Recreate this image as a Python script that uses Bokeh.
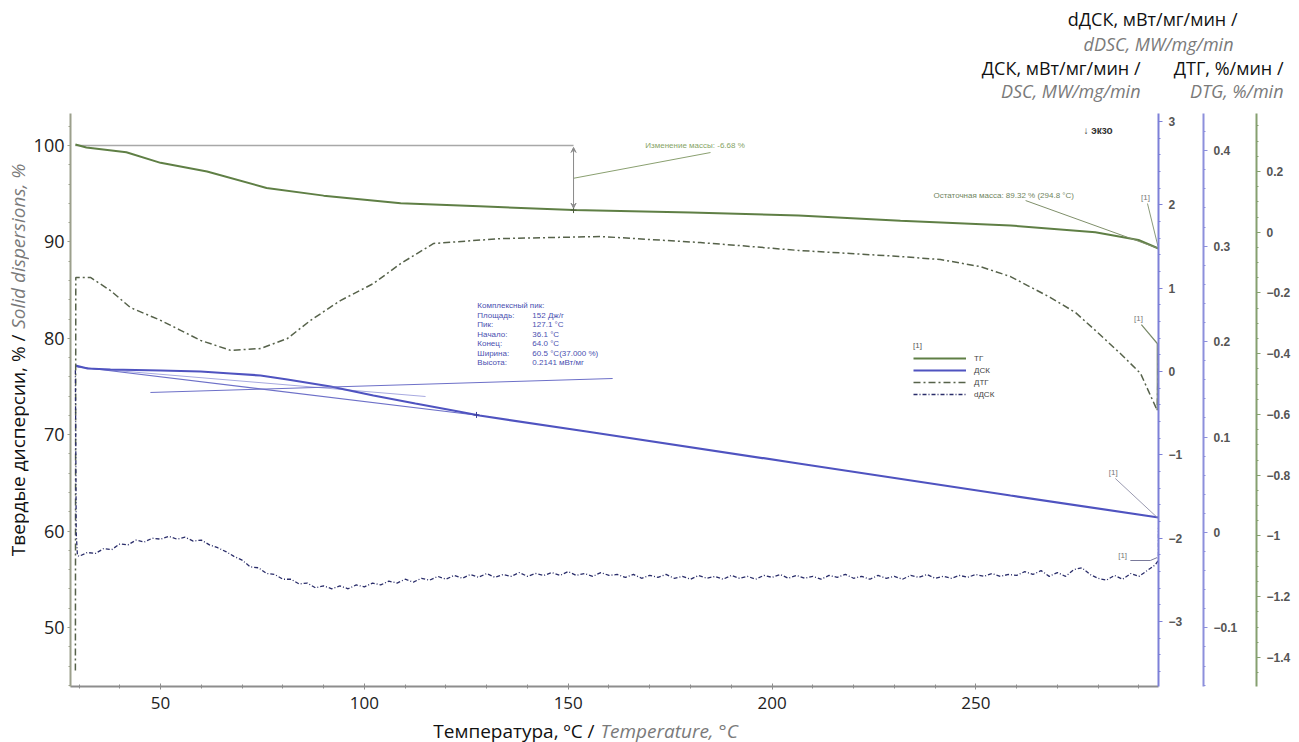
import numpy as np
from bokeh.plotting import figure
from bokeh.layouts import column, row
from bokeh.models import (Range1d, LinearAxis, SingleIntervalTicker, Label, Legend, LegendItem,
                          Arrow, VeeHead, ColumnDataSource)
from bokeh.core.properties import value
from bokeh.embed import file_html
from bokeh.resources import INLINE

# ---------------- data ----------------
# TG, % (left axis)
tg_T = [29.1, 31.8, 41.6, 50.0, 61.4, 76.0, 90.0, 108.9, 128.2, 151.3, 180.0, 206.5, 231.5,
        258.5, 279.3, 289.9, 294.8]
tg_val = [100.1, 99.8, 99.3, 98.2, 97.3, 95.6, 94.8, 94.0, 93.7, 93.3, 93.05, 92.75, 92.2,
          91.7, 91.0, 90.2, 89.32]

# DTG, %/min (third right axis)
dtg_T = [29.1, 29.2, 32.8, 37.7, 42.6, 50.0, 54.9, 59.8, 67.2, 74.5, 81.1, 86.8, 94.1, 102.2,
         108.9, 117.0, 133.4, 157.9, 182.4, 192.2, 206.5, 219.2, 231.5, 241.3, 251.1, 258.5,
         268.3, 274.4, 279.3, 285.5, 290.4, 294.5, 294.8]
dtg_val = [-1.443, -0.149, -0.149, -0.192, -0.248, -0.290, -0.323, -0.356, -0.389, -0.383,
           -0.350, -0.290, -0.225, -0.169, -0.103, -0.037, -0.021, -0.014, -0.034, -0.044,
           -0.060, -0.070, -0.080, -0.090, -0.113, -0.146, -0.215, -0.264, -0.323, -0.400,
           -0.465, -0.587, -0.366]

# DSC, mW/mg (first right axis)
dsc_T = [29.1, 32.1, 37.7, 50.0, 59.8, 67.2, 74.5, 81.1, 91.7, 102.2, 112.5, 123.1, 128.2,
         154.5, 206.5, 258.5, 294.8]
dsc_val = [0.072, 0.036, 0.024, 0.012, 0.0, -0.024, -0.048, -0.096, -0.180, -0.288, -0.384,
           -0.480, -0.528, -0.720, -1.104, -1.488, -1.752]
dsc_base_T = [29.1, 128.2]
dsc_base_val = [0.06, -0.528]
dsc_aux_T = [29.6, 115.0]
dsc_aux_val = [0.05, -0.30]

# dDSC, mW/mg/min (second right axis)
ddsc_grid = list(range(30, 295, 2))
ddsc_grid_val = [
    -0.025, -0.021, -0.022, -0.017, -0.018, -0.012, -0.013, -0.008, -0.010, -0.006,
    -0.007, -0.004, -0.007, -0.005, -0.009, -0.008, -0.013, -0.016, -0.020, -0.025,
    -0.029, -0.036, -0.037, -0.043, -0.044, -0.049, -0.049, -0.054, -0.053, -0.058,
    -0.056, -0.059, -0.056, -0.059, -0.055, -0.057, -0.053, -0.055, -0.051, -0.053,
    -0.049, -0.052, -0.048, -0.050, -0.046, -0.049, -0.045, -0.048, -0.044, -0.047,
    -0.043, -0.047, -0.044, -0.046, -0.042, -0.046, -0.043, -0.045, -0.042, -0.045,
    -0.041, -0.045, -0.043, -0.046, -0.042, -0.045, -0.044, -0.047, -0.044, -0.048,
    -0.045, -0.047, -0.044, -0.048, -0.046, -0.049, -0.045, -0.048, -0.046, -0.049,
    -0.045, -0.048, -0.046, -0.049, -0.045, -0.047, -0.044, -0.048, -0.045, -0.048,
    -0.046, -0.049, -0.045, -0.047, -0.044, -0.048, -0.046, -0.049, -0.045, -0.048,
    -0.046, -0.049, -0.045, -0.047, -0.044, -0.048, -0.046, -0.048, -0.045, -0.047,
    -0.044, -0.046, -0.043, -0.046, -0.044, -0.045, -0.041, -0.044, -0.040, -0.046,
    -0.042, -0.046, -0.039, -0.037, -0.044, -0.048, -0.050, -0.045, -0.049, -0.043,
    -0.046, -0.040, -0.034]
ddsc_T = [29.1, 29.3, 29.6] + ddsc_grid + [294.8, 294.8]
ddsc_val = [0.17, 0.0, -0.024] + ddsc_grid_val + [-0.029, 0.005]

# analysis annotations
mass_change_T = 151.3
mass_change_text = "Изменение массы: -6.68 %"
residual_text = "Остаточная масса: 89.32 % (294.8 °C)"
peak_names = ["Комплексный пик:", "Площадь:", "Пик:", "Начало:", "Конец:", "Ширина:", "Высота:"]
peak_values = ["", "152 Дж/г", "127.1 °C", "36.1 °C", "64.0 °C", "60.5 °C(37.000 %)", "0.2141 мВт/мг"]
peak_T = 127.5

# ---------------- layout sizes ----------------
W, H = 1299, 742
TOPH = 105          # strip with the right-axis titles
LW = 29             # strip with the left-axis title
MH = 612            # main figure height
MW = W - LW
BH = H - TOPH - MH  # strip with the x-axis title


def aux(w, h):
    f = figure(width=w, height=h, x_range=Range1d(0, w), y_range=Range1d(0, h),
               output_backend="svg", toolbar_location=None, min_border=0,
               x_axis_location=None, y_axis_location=None,
               background_fill_color="white", border_fill_color="white")
    f.outline_line_color = None
    f.grid.visible = False
    return f


# ---------------- main figure ----------------
p = figure(width=MW, height=MH, output_backend="svg", toolbar_location=None,
           x_range=Range1d(27.9, 294.8), y_range=Range1d(43.88, 103.32),
           min_border_left=70 - LW, min_border_right=141, min_border_top=8, min_border_bottom=31,
           background_fill_color="white", border_fill_color="white")
p.outline_line_color = None
p.xgrid.visible = False
p.ygrid.visible = False
p.extra_y_ranges = {"dsc": Range1d(-3.780, 3.096), "ddsc": Range1d(-0.1614, 0.439),
                    "dtg": Range1d(-1.4955, 0.3909)}

TICK_FONT = "Open Sans"
xa = p.xaxis[0]
xa.ticker = SingleIntervalTicker(interval=50, num_minor_ticks=5)
xa.axis_line_color = "#8d8d8d"; xa.axis_line_width = 2
xa.major_tick_line_color = "#8d8d8d"; xa.minor_tick_line_color = "#8d8d8d"
xa.major_tick_in = 3; xa.major_tick_out = 3; xa.minor_tick_in = 2; xa.minor_tick_out = 2
xa.major_label_text_font = TICK_FONT; xa.major_label_text_font_size = "17px"
xa.major_label_text_color = "#222222"; xa.major_label_standoff = 7

ya = p.yaxis[0]
ya.ticker = SingleIntervalTicker(interval=10, num_minor_ticks=5)
ya.axis_line_color = "#9ca08c"; ya.axis_line_width = 2
ya.major_tick_line_color = "#9ca08c"; ya.minor_tick_line_color = "#9ca08c"
ya.major_tick_in = 0; ya.major_tick_out = 3; ya.minor_tick_in = 0; ya.minor_tick_out = 2
ya.major_label_text_font = TICK_FONT; ya.major_label_text_font_size = "18px"
ya.major_label_text_color = "#222222"; ya.major_label_standoff = 3


def right_axis(rng, interval, minors, color, spacer):
    ax = LinearAxis(y_range_name=rng, ticker=SingleIntervalTicker(interval=interval, num_minor_ticks=minors))
    ax.axis_line_color = color; ax.axis_line_width = 2
    ax.major_tick_line_color = color; ax.minor_tick_line_color = color
    ax.major_tick_in = 0; ax.major_tick_out = 4; ax.minor_tick_in = 0; ax.minor_tick_out = 2
    ax.major_label_text_font = "Liberation Sans"; ax.major_label_text_font_size = "12px"
    ax.major_label_text_font_style = "bold"; ax.major_label_text_color = "#555555"
    ax.major_label_standoff = 6
    if spacer:
        ax.axis_label = " "
        ax.axis_label_text_font_size = "1px"
        ax.axis_label_standoff = spacer
    p.add_layout(ax, "right")
    return ax


right_axis("dsc", 1, 5, "#7d80d8", 14)
right_axis("ddsc", 0.1, 5, "#8d90dc", 12)
right_axis("dtg", 0.2, 4, "#86a070", 0)

# ---------------- curves ----------------
p.line([tg_T[0], mass_change_T], [100, 100], line_color="#a8a8a8", line_width=1.5)
r_tg = p.line(tg_T, tg_val, line_color="#5f7f45", line_width=2)
p.line(dsc_aux_T, dsc_aux_val, y_range_name="dsc", line_color="#a7a9e0", line_width=1)
p.line(dsc_base_T, dsc_base_val, y_range_name="dsc", line_color="#6d70c8", line_width=1.2)
r_dsc = p.line(dsc_T, dsc_val, y_range_name="dsc", line_color="#4f53c0", line_width=2.2)
r_dtg = p.line(dtg_T, dtg_val, y_range_name="dtg", line_color="#56624a", line_width=1.5,
               line_dash="7 3 2 3")
r_ddsc = p.line(ddsc_T, ddsc_val, y_range_name="ddsc", line_color="#2a2d6a", line_width=1.3,
                line_dash="4 2 1 2")

tg_at_change = float(np.interp(mass_change_T, tg_T, tg_val))
p.scatter([mass_change_T], [tg_at_change], marker="cross", size=6, line_color="#4a5a3a")
p.scatter([peak_T], [float(np.interp(peak_T, dsc_T, dsc_val))], y_range_name="dsc",
          marker="cross", size=6, line_color="#3a3e9a")

p.add_layout(Arrow(start=VeeHead(size=5, line_color="#8a8a8a", fill_color="#8a8a8a"),
                   end=VeeHead(size=5, line_color="#8a8a8a", fill_color="#8a8a8a"),
                   x_start=mass_change_T, y_start=99.8, x_end=mass_change_T, y_end=tg_at_change + 0.2,
                   line_color="#8a8a8a", line_width=1))
ann_font = value("Liberation Sans")
p.line([mass_change_T, 184.9], [96.6, 99.27], line_color="#8aa070", line_width=1)
p.add_layout(Label(x=168.9, y=100.0, text=mass_change_text, text_font="Liberation Sans",
                   text_font_size="8px", text_color="#86a466", text_baseline="middle"))
p.line([262.2, tg_T[-1]], [94.29, tg_val[-1]], line_color="#7f8f6a", line_width=1)
p.add_layout(Label(x=239.6, y=94.81, text=residual_text, text_font="Liberation Sans",
                   text_font_size="8px", text_color="#6f8560", text_baseline="middle"))
p.add_layout(Label(x=276.4, y=101.56, text="↓ экзо", text_font="Liberation Sans",
                   text_font_size="10px", text_font_style="bold", text_color="#333333",
                   text_baseline="middle"))

p.line([292.1, tg_T[-1]], [93.98, tg_val[-1]], line_color="#8a9a7a", line_width=1)
p.line([290.6, 294.5, 294.5], [81.43, 79.46, 72.6], line_color="#7a8a6a", line_width=1.2)
p.line([284.2, 294.5], [65.46, 61.41], line_color="#9a9ab0", line_width=1)
p.line([287.9, 292.8, 294.5], [56.95, 56.95, 57.26], line_color="#7a7a9a", line_width=1)
mark_src = ColumnDataSource(dict(x=[291.6, 289.9, 283.7, 286.0], y=[94.6, 82.05, 66.08, 57.47],
                                 t=["[1]", "[1]", "[1]", "[1]"]))
p.text(x="x", y="y", text="t", source=mark_src, text_font=ann_font, text_font_size=value("8px"),
       text_color="#777777", text_align="center", text_baseline="middle")

peak_y = [83.40 - 0.985 * i for i in range(len(peak_names))]
peak_src = ColumnDataSource(dict(x=[127.7] * len(peak_names), y=peak_y, t=peak_names))
val_src = ColumnDataSource(dict(x=[141.2] * len(peak_values), y=peak_y, t=peak_values))
p.text(x="x", y="y", text="t", source=peak_src, text_font=ann_font, text_font_size=value("8px"),
       text_color="#4a4fb0", text_baseline="middle")
p.text(x="x", y="y", text="t", source=val_src, text_font=ann_font, text_font_size=value("8px"),
       text_color="#4a4fb0", text_baseline="middle")
p.line([47.5, 160.9], [74.38, 75.83], line_color="#6d70c8", line_width=1)

legend = Legend(items=[LegendItem(label="ТГ", renderers=[r_tg]),
                       LegendItem(label="ДСК", renderers=[r_dsc]),
                       LegendItem(label="ДТГ", renderers=[r_dtg]),
                       LegendItem(label="dДСК", renderers=[r_ddsc])],
                location=(843, 286), title="[1]", title_text_font_size="8px",
                title_text_font_style="normal", title_text_color="#555555", title_standoff=2,
                label_text_font="Liberation Sans", label_text_font_size="8px",
                label_text_color="#444444", label_height=12, glyph_height=12, glyph_width=53,
                label_standoff=8, spacing=0, padding=2, margin=0,
                background_fill_alpha=0, border_line_color=None)
p.add_layout(legend)

# ---------------- axis titles (mixed styles) in side strips ----------------
BLACK, GREY = "#111111", "#7a7a7a"
LF = "Open Sans"

top = aux(W, TOPH)
tops = [("dДСК, мВт/мг/мин /", 1237, 87, False), ("dDSC, MW/mg/min", 1233, 62, True),
        ("ДСК, мВт/мг/мин /", 1140, 38, False), ("DSC, MW/mg/min", 1140, 15, True),
        ("ДТГ, %/мин /", 1283, 38, False), ("DTG, %/min", 1283, 15, True)]
for txt, tx, ty, it in tops:
    top.add_layout(Label(x=tx, y=ty, text=txt, text_font=LF, text_font_size="18px",
                         text_font_style="italic" if it else "normal",
                         text_color=GREY if it else BLACK, text_align="right",
                         text_baseline="middle"))

left = aux(LW, MH)
left.add_layout(Label(x=17, y=376, angle=np.pi / 2, text="Твердые дисперсии, % /", text_font=LF,
                      text_font_size="19px", text_color=BLACK, text_align="right",
                      text_baseline="middle"))
left.add_layout(Label(x=17, y=382, angle=np.pi / 2, text="Solid dispersions, %", text_font=LF,
                      text_font_size="19px", text_font_style="italic", text_color=GREY,
                      text_align="left", text_baseline="middle"))

bottom = aux(W, BH)
bottom.add_layout(Label(x=594, y=12, text="Температура, ºC /", text_font=LF, text_font_size="19px",
                        text_color=BLACK, text_align="right", text_baseline="middle"))
bottom.add_layout(Label(x=600, y=12, text="Temperature, °C", text_font=LF, text_font_size="19px",
                        text_font_style="italic", text_color=GREY, text_align="left",
                        text_baseline="middle"))

layout = column(top, row(left, p, spacing=0), bottom, spacing=0)
open("out.html", "w").write(file_html(layout, INLINE))
